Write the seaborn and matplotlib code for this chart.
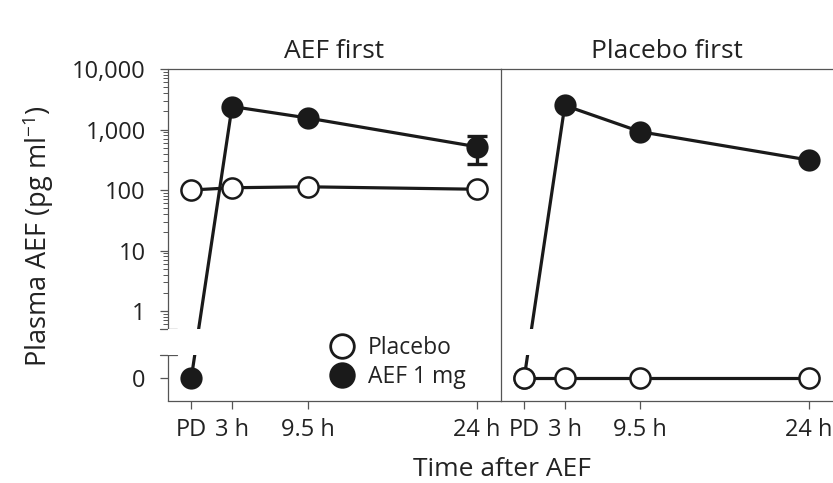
import numpy as np
import pandas as pd
import seaborn as sns
import matplotlib.pyplot as plt
from matplotlib.lines import Line2D

# --- data ---
time_labels = ['PD', '3 h', '9.5 h', '24 h']
time_hours = [-0.5, 3, 9.5, 24]

aef_first_placebo = [100, 109, 113, 103]
aef_first_aef = [0, 2400, 1550, 520]
aef_first_aef_err_low = [0, 0, 0, 250]
aef_first_aef_err_high = [0, 0, 0, 260]

placebo_first_placebo = [0, 0, 0, 0]
placebo_first_aef = [0, 2500, 920, 313]
placebo_first_aef_err_low = [0, 0, 0, 0]
placebo_first_aef_err_high = [0, 0, 0, 0]

panel_titles = ['AEF first', 'Placebo first']
ytick_values = [0, 1, 10, 100, 1000, 10000]
ytick_labels = ['0', '1', '10', '100', '1,000', '10,000']
legend_labels = ['Placebo', 'AEF 1 mg']

# --- style ---
sns.set_theme(style='ticks')
plt.rcParams['font.family'] = ['Open Sans', 'DejaVu Sans']
plt.rcParams['mathtext.default'] = 'regular'

INK = '#1a1a1a'
SPINE = '#555555'
TEXT = '#222222'

# broken y axis: log above the break, linear stub holding the zero
ZERO_POS = -1.107
BREAK_LO, BREAK_HI = 0.236, 0.5
SLOPE = (np.log10(BREAK_HI) - ZERO_POS) / BREAK_HI
Y_MIN, Y_MAX = -0.236, 10000


def fwd(v):
    v = np.asarray(v, dtype=float)
    return np.where(v >= BREAK_HI, np.log10(np.maximum(v, BREAK_HI)), ZERO_POS + SLOPE * v)


def inv(y):
    y = np.asarray(y, dtype=float)
    with np.errstate(over='ignore'):
        return np.where(y >= np.log10(BREAK_HI), 10 ** np.minimum(y, 300), (y - ZERO_POS) / SLOPE)


minor_ticks = [m * 10.0 ** e for e in range(-1, 4) for m in range(2, 10)]
minor_ticks = [t for t in minor_ticks if BREAK_HI <= t < Y_MAX]

fig = plt.figure(figsize=(8.33, 4.83), dpi=100)
ax1 = fig.add_axes([0.2017, 0.1698, 0.3997, 0.6873])
ax2 = fig.add_axes([0.6014, 0.1698, 0.3986, 0.6873])

panels = [
    (ax1, aef_first_placebo, aef_first_aef, aef_first_aef_err_low, aef_first_aef_err_high),
    (ax2, placebo_first_placebo, placebo_first_aef, placebo_first_aef_err_low, placebo_first_aef_err_high),
]

for i, (ax, placebo, aef, err_lo, err_hi) in enumerate(panels):
    ax.set_yscale('function', functions=(fwd, inv))
    df = pd.DataFrame({'time': time_hours, 'placebo': placebo, 'aef': aef})

    sns.lineplot(data=df, x='time', y='aef', ax=ax, color=INK, lw=2.3,
                 marker='o', markersize=14.5, markerfacecolor=INK,
                 markeredgecolor=INK, markeredgewidth=1.5)
    sns.lineplot(data=df, x='time', y='placebo', ax=ax, color=INK, lw=2.3,
                 marker='o', markersize=14.5, markerfacecolor='white',
                 markeredgecolor=INK, markeredgewidth=1.8)

    # error bars only where they stick out
    idx = [k for k in range(len(aef)) if err_lo[k] > 0 or err_hi[k] > 0]
    if idx:
        ax.errorbar([time_hours[k] for k in idx], [aef[k] for k in idx],
                    yerr=[[err_lo[k] for k in idx], [err_hi[k] for k in idx]],
                    fmt='none', ecolor=INK, elinewidth=2.4, capsize=7.5, capthick=2.4)

    # gap in the lines at the axis break
    ax.axhspan(BREAK_LO, BREAK_HI, color='white', lw=0, zorder=2.2)

    ax.set_xlim(-2.5, 26.1)
    ax.set_ylim(Y_MIN, Y_MAX)
    ax.set_xticks(time_hours, labels=time_labels)
    ax.set_xlabel('')
    ax.set_ylabel('')
    ax.set_title(panel_titles[i], fontsize=19, color=TEXT, pad=8)

    for side in ['top', 'bottom', 'left', 'right']:
        ax.spines[side].set_color(SPINE)
        ax.spines[side].set_linewidth(0.9)
    ax.tick_params(axis='x', direction='out', length=6, width=0.9, color=SPINE,
                   labelsize=17, labelcolor=TEXT, pad=6)

ax2.spines['right'].set_visible(False)
ax1.spines['right'].set_visible(False)
ax2.tick_params(axis='y', which='both', left=False, labelleft=False)

# left panel y axis
ax1.set_yticks(ytick_values, labels=ytick_labels)
ax1.set_yticks(minor_ticks, minor=True)
ax1.tick_params(axis='y', which='major', direction='out', length=6, width=0.9,
                color=SPINE, labelsize=17, labelcolor=TEXT, pad=10)
ax1.tick_params(axis='y', which='minor', direction='out', length=3.5, width=0.7,
                color=SPINE)
ax1.spines['left'].set_visible(False)
trans = ax1.get_yaxis_transform()
for lo, hi in [(BREAK_HI, Y_MAX), (Y_MIN, BREAK_LO)]:
    ax1.plot([0, 0], [lo, hi], transform=trans, color=SPINE, lw=0.9,
             clip_on=False, solid_capstyle='butt')
for yb in [BREAK_LO, BREAK_HI]:
    ax1.plot([-0.024, 0.027], [yb, yb], transform=trans, color=SPINE, lw=0.9,
             clip_on=False)

handles = [
    Line2D([], [], ls='none', marker='o', markersize=17, markerfacecolor='white',
           markeredgecolor=INK, markeredgewidth=2),
    Line2D([], [], ls='none', marker='o', markersize=17, markerfacecolor=INK,
           markeredgecolor=INK, markeredgewidth=2),
]
ax1.legend(handles, legend_labels, loc='center left', bbox_to_anchor=(0.491, 0.116),
           frameon=False, fontsize=16.5, handlelength=0.95, handletextpad=0.65,
           labelspacing=0.2, borderpad=0, borderaxespad=0, labelcolor=TEXT)

fig.text(0.603, 0.003, 'Time after AEF', ha='center', va='bottom',
         fontsize=19, color=TEXT)
fig.text(0.046, 0.511, 'Plasma AEF (pg ml$^{-1}$)', ha='center', va='center',
         rotation=90, fontsize=19.5, color=TEXT)

fig.savefig('out.png', dpi=100)
